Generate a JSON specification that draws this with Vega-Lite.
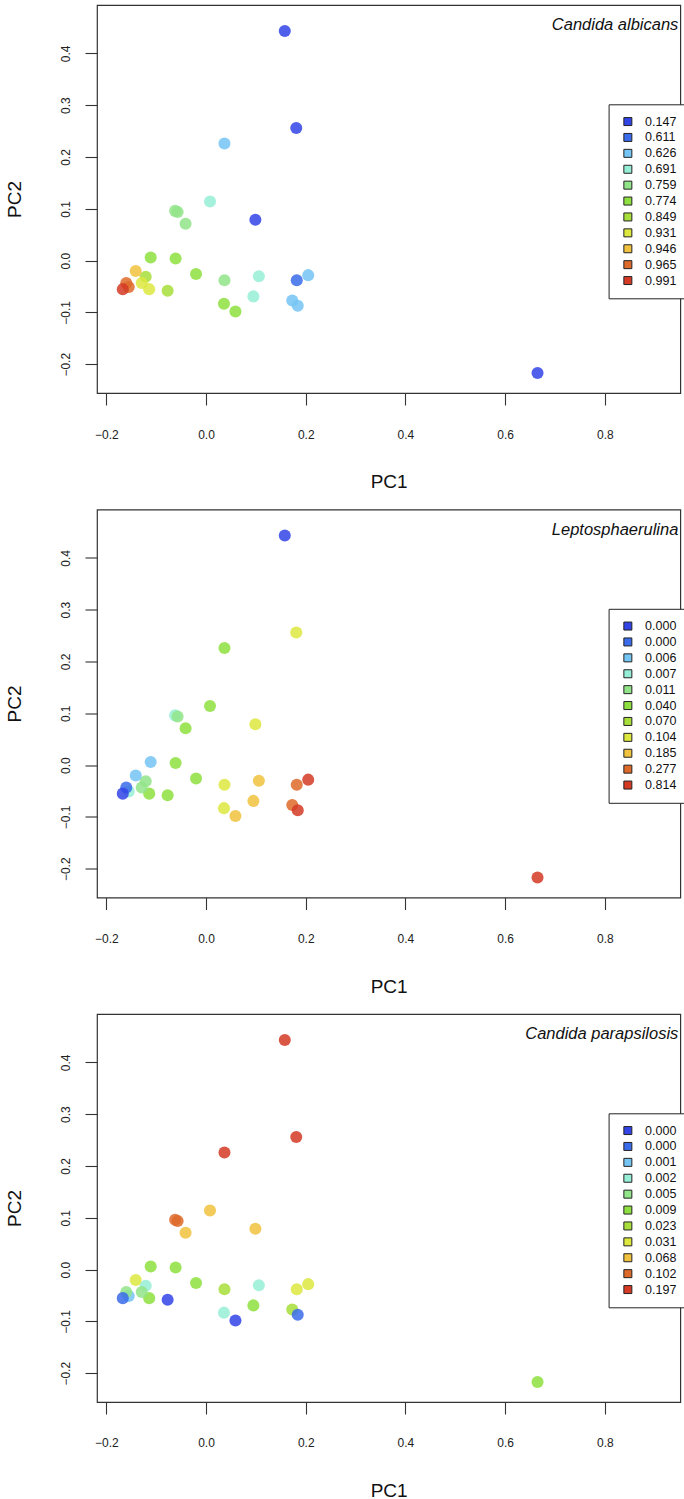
{
  "$schema": "https://vega.github.io/schema/vega-lite/v6.json",
  "background": "white",
  "padding": {"left": 5, "top": 4, "right": 0, "bottom": 3},
  "spacing": 116.5,
  "bounds": "flush",
  "datasets": {
    "pts": [
      {"pc1": 0.158, "pc2": 0.443, "ca": 1, "lp": 1, "cp": 11},
      {"pc1": 0.181, "pc2": 0.256, "ca": 1, "lp": 8, "cp": 11},
      {"pc1": 0.037, "pc2": 0.226, "ca": 3, "lp": 6, "cp": 11},
      {"pc1": 0.008, "pc2": 0.114, "ca": 4, "lp": 6, "cp": 9},
      {"pc1": 0.099, "pc2": 0.079, "ca": 1, "lp": 8, "cp": 9},
      {"pc1": -0.062, "pc2": 0.096, "ca": 5, "lp": 4, "cp": 10},
      {"pc1": -0.057, "pc2": 0.094, "ca": 5, "lp": 5, "cp": 10},
      {"pc1": -0.041, "pc2": 0.071, "ca": 5, "lp": 6, "cp": 9},
      {"pc1": -0.111, "pc2": 0.006, "ca": 6, "lp": 3, "cp": 6},
      {"pc1": -0.061, "pc2": 0.004, "ca": 6, "lp": 6, "cp": 6},
      {"pc1": -0.020, "pc2": -0.026, "ca": 6, "lp": 6, "cp": 6},
      {"pc1": 0.037, "pc2": -0.038, "ca": 5, "lp": 8, "cp": 7},
      {"pc1": 0.106, "pc2": -0.030, "ca": 4, "lp": 9, "cp": 4},
      {"pc1": 0.182, "pc2": -0.038, "ca": 2, "lp": 10, "cp": 8},
      {"pc1": 0.205, "pc2": -0.028, "ca": 3, "lp": 11, "cp": 8},
      {"pc1": 0.095, "pc2": -0.069, "ca": 4, "lp": 9, "cp": 6},
      {"pc1": 0.036, "pc2": -0.083, "ca": 6, "lp": 8, "cp": 4},
      {"pc1": 0.059, "pc2": -0.098, "ca": 6, "lp": 9, "cp": 1},
      {"pc1": 0.173, "pc2": -0.077, "ca": 3, "lp": 10, "cp": 7},
      {"pc1": 0.184, "pc2": -0.087, "ca": 3, "lp": 11, "cp": 2},
      {"pc1": 0.665, "pc2": -0.217, "ca": 1, "lp": 11, "cp": 6},
      {"pc1": -0.077, "pc2": -0.058, "ca": 7, "lp": 6, "cp": 1},
      {"pc1": -0.114, "pc2": -0.055, "ca": 8, "lp": 6, "cp": 6},
      {"pc1": -0.121, "pc2": -0.031, "ca": 7, "lp": 5, "cp": 4},
      {"pc1": -0.129, "pc2": -0.043, "ca": 8, "lp": 5, "cp": 5},
      {"pc1": -0.141, "pc2": -0.020, "ca": 9, "lp": 3, "cp": 8},
      {"pc1": -0.155, "pc2": -0.051, "ca": 10, "lp": 4, "cp": 3},
      {"pc1": -0.160, "pc2": -0.043, "ca": 10, "lp": 2, "cp": 5},
      {"pc1": -0.167, "pc2": -0.055, "ca": 11, "lp": 1, "cp": 2}
    ]
  },
  "resolve": {"scale": {"color": "independent"}, "legend": {"color": "independent"}},
  "vconcat": [
    {
      "width": 583.3, "height": 388,
      "title": {"text": "Candida albicans", "anchor": "end", "frame": "group", "orient": "top", "offset": -24.3, "dy": 17.3, "baseline": "alphabetic", "dx": -2, "font": "Liberation Sans", "fontSize": 16.5, "fontStyle": "italic", "fontWeight": "normal", "color": "#111"},
      "data": {"name": "pts"},
      "mark": {"type": "circle", "size": 145, "opacity": 0.85, "strokeWidth": 0},
      "encoding": {
        "x": {"field": "pc1", "type": "quantitative", "scale": {"domain": [-0.2187, 0.9514], "nice": false, "zero": false}, "axis": {"title": "PC1", "values": [-0.2, 0, 0.2, 0.4, 0.6, 0.8], "format": ".1f"}},
        "y": {"field": "pc2", "type": "quantitative", "scale": {"domain": [-0.2554, 0.4932], "nice": false, "zero": false}, "axis": {"title": "PC2", "values": [-0.2, -0.1, 0, 0.1, 0.2, 0.3, 0.4], "format": ".1f"}},
        "color": {"field": "ca", "type": "nominal", "scale": {"domain": [1,2,3,4,5,6,7,8,9,10,11], "range": ["#3344E6","#3A6BEA","#74C4F4","#96EED6","#92E488","#8EE040","#A8DE3A","#DCE83E","#F0C23E","#DE6A2A","#D43A24"]}, "legend": {"labelExpr": "['0.147','0.611','0.626','0.691','0.759','0.774','0.849','0.931','0.946','0.965','0.991'][datum.value - 1]"}}
      }
    },
    {
      "width": 583.3, "height": 388,
      "title": {"text": "Leptosphaerulina", "anchor": "end", "frame": "group", "orient": "top", "offset": -24.3, "dy": 17.3, "baseline": "alphabetic", "dx": -2, "font": "Liberation Sans", "fontSize": 16.5, "fontStyle": "italic", "fontWeight": "normal", "color": "#111"},
      "data": {"name": "pts"},
      "mark": {"type": "circle", "size": 145, "opacity": 0.85, "strokeWidth": 0},
      "encoding": {
        "x": {"field": "pc1", "type": "quantitative", "scale": {"domain": [-0.2187, 0.9514], "nice": false, "zero": false}, "axis": {"title": "PC1", "values": [-0.2, 0, 0.2, 0.4, 0.6, 0.8], "format": ".1f"}},
        "y": {"field": "pc2", "type": "quantitative", "scale": {"domain": [-0.2554, 0.4932], "nice": false, "zero": false}, "axis": {"title": "PC2", "values": [-0.2, -0.1, 0, 0.1, 0.2, 0.3, 0.4], "format": ".1f"}},
        "color": {"field": "lp", "type": "nominal", "scale": {"domain": [1,2,3,4,5,6,7,8,9,10,11], "range": ["#3344E6","#3A6BEA","#74C4F4","#96EED6","#92E488","#8EE040","#A8DE3A","#DCE83E","#F0C23E","#DE6A2A","#D43A24"]}, "legend": {"labelExpr": "['0.000','0.000','0.006','0.007','0.011','0.040','0.070','0.104','0.185','0.277','0.814'][datum.value - 1]"}}
      }
    },
    {
      "width": 583.3, "height": 388,
      "title": {"text": "Candida parapsilosis", "anchor": "end", "frame": "group", "orient": "top", "offset": -24.3, "dy": 17.3, "baseline": "alphabetic", "dx": -2, "font": "Liberation Sans", "fontSize": 16.5, "fontStyle": "italic", "fontWeight": "normal", "color": "#111"},
      "data": {"name": "pts"},
      "mark": {"type": "circle", "size": 145, "opacity": 0.85, "strokeWidth": 0},
      "encoding": {
        "x": {"field": "pc1", "type": "quantitative", "scale": {"domain": [-0.2187, 0.9514], "nice": false, "zero": false}, "axis": {"title": "PC1", "values": [-0.2, 0, 0.2, 0.4, 0.6, 0.8], "format": ".1f"}},
        "y": {"field": "pc2", "type": "quantitative", "scale": {"domain": [-0.2554, 0.4932], "nice": false, "zero": false}, "axis": {"title": "PC2", "values": [-0.2, -0.1, 0, 0.1, 0.2, 0.3, 0.4], "format": ".1f"}},
        "color": {"field": "cp", "type": "nominal", "scale": {"domain": [1,2,3,4,5,6,7,8,9,10,11], "range": ["#3344E6","#3A6BEA","#74C4F4","#96EED6","#92E488","#8EE040","#A8DE3A","#DCE83E","#F0C23E","#DE6A2A","#D43A24"]}, "legend": {"labelExpr": "['0.000','0.000','0.001','0.002','0.005','0.009','0.023','0.031','0.068','0.102','0.197'][datum.value - 1]"}}
      }
    }
  ],
  "config": {
    "view": {"stroke": "#333", "strokeWidth": 1.2},
    "axis": {"grid": false, "domain": false, "tickColor": "#333", "tickWidth": 1.1, "tickSize": 12, "labelFont": "Liberation Sans", "labelFontSize": 12, "labelColor": "#222", "titleFont": "Liberation Sans", "titleFontSize": 19, "titleFontWeight": "normal", "titleColor": "#111", "labelOverlap": false},
    "axisX": {"labelPadding": 33, "labelBaseline": "alphabetic", "labelFlush": false, "titleY": 94.7, "titleBaseline": "alphabetic"},
    "axisY": {"labelAngle": -90, "labelAlign": "center", "labelBaseline": "alphabetic", "labelPadding": 15.4, "titleX": -76, "titleBaseline": "alphabetic", "titleAngle": -90},
    "legend": {"orient": "none", "legendX": 511.6, "legendY": 99.3, "title": null, "direction": "vertical", "strokeColor": "#222", "fillColor": "white", "padding": 11, "symbolType": "square", "symbolSize": 64, "symbolStrokeColor": "#222", "symbolStrokeWidth": 1, "symbolOpacity": 1, "symbolOffset": 2, "labelFont": "Liberation Sans", "labelFontSize": 12.5, "labelColor": "#111", "labelOffset": 11, "rowPadding": 2.9}
  }
}
